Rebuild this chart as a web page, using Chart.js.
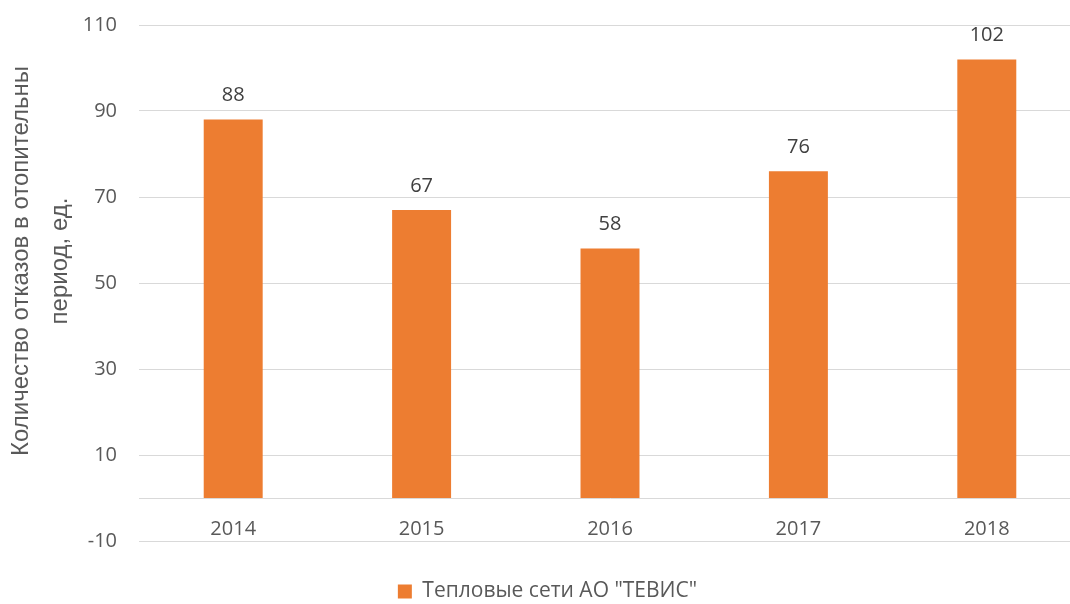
<!DOCTYPE html>
<html>
<head>
<meta charset="utf-8">
<script src="https://cdn.jsdelivr.net/npm/chart.js@4"></script>
<style>
  html, body { margin: 0; padding: 0; background: #fff; overflow: hidden; }
  #wrap { width: 1081px; height: 604px; }
</style>
</head>
<body>
<div id="wrap"><canvas id="failChart"></canvas></div>
<script>
const years = ['2014', '2015', '2016', '2017', '2018'];
const failures = [88, 67, 58, 76, 102];
const seriesName = 'Тепловые сети АО "ТЕВИС"';
const yTitle = ['Количество отказов в отопительны', 'период, ед.'];

const ORANGE = '#ED7D31';
const TEXT = '#595959';
const GRID = '#D9D9D9';
const FONT = "'Open Sans', sans-serif";
const TITLE_FONT = "'Liberation Sans', Arial, sans-serif";

// подписи значений над столбцами
const valueLabels = {
  id: 'valueLabels',
  afterDatasetsDraw(chart) {
    const ctx = chart.ctx;
    const meta = chart.getDatasetMeta(0);
    ctx.save();
    ctx.font = '20px ' + FONT;
    ctx.fillStyle = '#404040';
    ctx.textAlign = 'center';
    ctx.textBaseline = 'middle';
    meta.data.forEach((bar, i) => {
      ctx.fillText(String(failures[i]), bar.x, bar.y - 24);
    });
    ctx.restore();
  }
};

// заголовок оси Y (две строки, чуть выше центра, как в оригинале)
const yAxisTitle = {
  id: 'yAxisTitle',
  afterDraw(chart) {
    const ctx = chart.ctx;
    const cy = (chart.chartArea.top + chart.chartArea.bottom) / 2 - 22;
    ctx.save();
    ctx.translate(0, cy);
    ctx.rotate(-Math.PI / 2);
    ctx.font = '24px ' + TITLE_FONT;
    ctx.fillStyle = TEXT;
    ctx.textAlign = 'center';
    ctx.textBaseline = 'alphabetic';
    ctx.fillText(yTitle[0], 0, 28);
    ctx.fillText(yTitle[1], 0, 67);
    ctx.restore();
  }
};

new Chart(document.getElementById('failChart'), {
  type: 'bar',
  data: {
    labels: years,
    datasets: [{
      label: seriesName,
      data: failures,
      backgroundColor: ORANGE,
      borderWidth: 0,
      barPercentage: 0.313,
      categoryPercentage: 1
    }]
  },
  options: {
    responsive: true,
    maintainAspectRatio: false,
    animation: false,
    layout: { padding: { top: 25, right: 0, bottom: -8, left: 14 } },
    plugins: {
      legend: {
        position: 'bottom',
        labels: {
          boxWidth: 14,
          boxHeight: 14,
          padding: 4,
          color: TEXT,
          font: { family: FONT, size: 21 }
        }
      },
      tooltip: { enabled: false }
    },
    scales: {
      x: {
        position: { y: 0 },
        grid: { display: false, drawTicks: false },
        border: { display: true, color: GRID, width: 1 },
        ticks: { color: TEXT, padding: 19, font: { family: FONT, size: 20 } },
        afterFit(scale) { scale.height = 29; }
      },
      // пустая ось-распорка между областью графика и легендой
      spacer: {
        type: 'category',
        position: 'bottom',
        labels: [''],
        grid: { display: false, drawTicks: false },
        border: { display: false },
        ticks: { display: false },
        afterFit(scale) { scale.height = 36; }
      },
      y: {
        min: -10,
        max: 110,
        ticks: { stepSize: 20, color: TEXT, padding: 22, font: { family: FONT, size: 20 } },
        grid: { color: GRID, lineWidth: 1, drawTicks: false },
        border: { display: false },
        afterFit(scale) {
          scale.width = 125;
          scale.paddingTop = 0;
          scale.paddingBottom = 0;
        }
      }
    }
  },
  plugins: [valueLabels, yAxisTitle]
});
</script>
</body>
</html>
